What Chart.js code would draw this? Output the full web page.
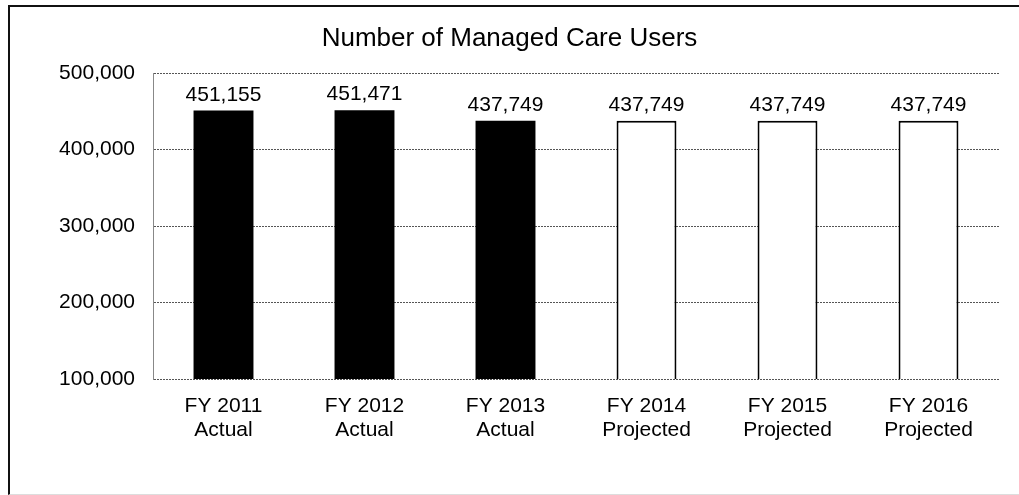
<!DOCTYPE html>
<html>
<head>
<meta charset="utf-8">
<script src="https://cdn.jsdelivr.net/npm/chart.js@4/dist/chart.umd.min.js"></script>
<style>
  html, body { margin: 0; padding: 0; background: #fff; }
  #wrap { position: relative; width: 1019px; height: 495px; }
  #frame {
    position: absolute; left: 8px; top: 5px; width: 1011px; height: 487px;
    border-left: 2px solid #111; border-top: 2px solid #111; border-bottom: 1px solid #ddd;
    pointer-events: none;
  }
</style>
</head>
<body>
<div id="wrap">
  <canvas id="myChart" width="1019" height="495"></canvas>
  <div id="frame"></div>
</div>
<script>
const fiscalYears = ['FY 2011', 'FY 2012', 'FY 2013', 'FY 2014', 'FY 2015', 'FY 2016'];
const yearTypes = ['Actual', 'Actual', 'Actual', 'Projected', 'Projected', 'Projected'];
const managedCareUsers = [451155, 451471, 437749, 437749, 437749, 437749];
const yTicks = [100000, 200000, 300000, 400000, 500000];

const FONT = '"Liberation Sans", Arial, Helvetica, sans-serif';

const labels = fiscalYears.map((fy, i) => [fy, yearTypes[i]]);
const isActual = yearTypes.map(t => t === 'Actual');

const valueLabels = {
    id: 'valueLabels',
    afterDatasetsDraw(chart) {
        const { ctx } = chart;
        const meta = chart.getDatasetMeta(0);
        ctx.save();
        ctx.font = `21px ${FONT}`;
        ctx.fillStyle = '#000';
        ctx.textAlign = 'center';
        ctx.textBaseline = 'alphabetic';
        meta.data.forEach((bar, i) => {
            ctx.fillText(managedCareUsers[i].toLocaleString('en-US'), bar.x, bar.y - 10);
        });
        ctx.restore();
    }
};

new Chart(document.getElementById('myChart'), {
    type: 'bar',
    data: {
        labels: labels,
        datasets: [{
            data: managedCareUsers,
            backgroundColor: isActual.map(a => a ? '#000' : '#fff'),
            borderColor: '#000',
            borderWidth: isActual.map(a => a ? 0 : 2),
            borderSkipped: 'bottom',
            categoryPercentage: 1,
            barPercentage: 0.425
        }]
    },
    options: {
        responsive: false,
        animation: false,
        layout: { padding: 0 },
        plugins: {
            legend: { display: false },
            tooltip: { enabled: false },
            title: {
                display: true,
                text: 'Number of Managed Care Users',
                color: '#000',
                font: { family: FONT, size: 26, weight: 'normal', lineHeight: 1.2 },
                padding: { top: 23, bottom: 19 }
            }
        },
        scales: {
            x: {
                grid: { display: false },
                border: { display: false },
                ticks: {
                    color: '#000',
                    font: { family: FONT, size: 21, lineHeight: 1.14 },
                    padding: 7,
                    maxRotation: 0,
                    autoSkip: false
                },
                afterFit: (scale) => { scale.height = 116; }
            },
            y: {
                min: yTicks[0],
                max: yTicks[yTicks.length - 1],
                afterBuildTicks: (scale) => { scale.ticks = yTicks.map(v => ({ value: v })); },
                grid: { color: '#555', lineWidth: 1, drawTicks: false },
                border: { display: true, color: '#888', dash: [2, 1] },
                ticks: {
                    color: '#000',
                    font: { family: FONT, size: 21 },
                    padding: 18,
                    callback: (v) => v.toLocaleString('en-US')
                },
                afterFit: (scale) => { scale.width = 153; }
            },
            spacer: {
                position: 'right',
                display: true,
                grid: { display: false },
                border: { display: false },
                ticks: { display: false },
                afterFit: (scale) => { scale.width = 20; }
            }
        }
    },
    plugins: [valueLabels]
});
</script>
</body>
</html>
